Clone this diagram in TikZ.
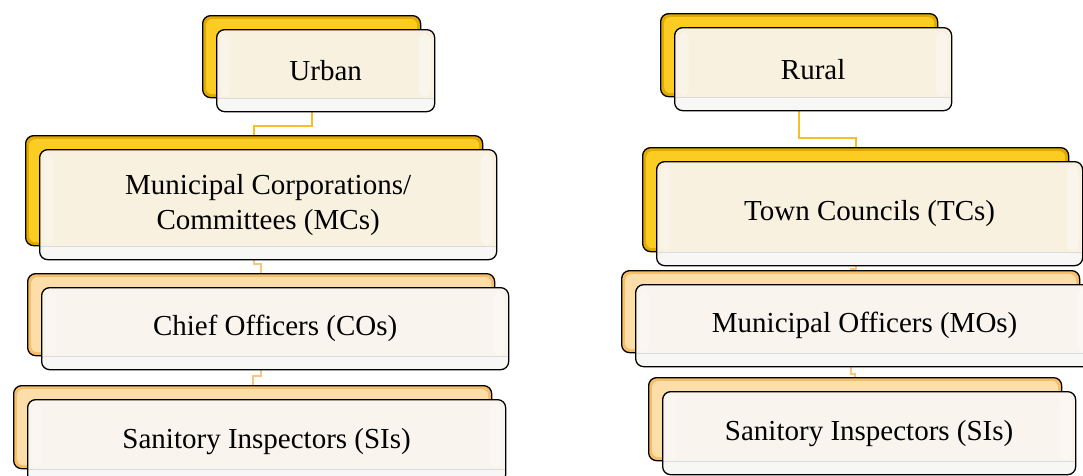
\documentclass[tikz,border=0pt]{standalone}
\usepackage{fontspec}
\setmainfont{Liberation Serif}
\pgfdeclarelayer{bg}
\pgfsetlayers{bg,main}
\definecolor{goldout}{HTML}{E2A900}
\definecolor{goldin}{HTML}{FBCD22}
\definecolor{peachout}{HTML}{F6BE68}
\definecolor{peachin}{HTML}{FDDDA8}
\definecolor{creamA}{HTML}{F8F1DF}
\definecolor{creamB}{HTML}{F9F5EE}
\definecolor{bandcol}{HTML}{F7F7F6}
\definecolor{linkA}{HTML}{F8BE2A}
\definecolor{linkB}{HTML}{F8C67C}
\tikzset{
  basebox/.style={draw=black, line width=1.3pt, rounded corners=8pt, inner sep=0pt, anchor=north west},
  backbox/.style 2 args={basebox, fill=#1,
    path picture={\fill[#2, rounded corners=6pt]
      ([shift={(3.5pt,-3.5pt)}]path picture bounding box.north west) rectangle
      ([shift={(-3.5pt,3.5pt)}]path picture bounding box.south east);}},
  backA/.style={backbox={goldout}{goldin}},
  backB/.style={backbox={peachout}{peachin}},
  frontbox/.style={basebox, fill=#1, align=center,
    font=\fontsize{29}{35}\selectfont,
    path picture={
      \fill[bandcol] (path picture bounding box.south west) rectangle
        ([yshift=13.5pt]path picture bounding box.south east);
      \draw[black!14, line width=1pt] ([yshift=13.5pt]path picture bounding box.south west) --
        ([yshift=13.5pt]path picture bounding box.south east);
      \fill[white, opacity=0.35] ([shift={(-16pt,-4pt)}]path picture bounding box.north east) rectangle
        ([shift={(-4pt,14pt)}]path picture bounding box.south east);
      \fill[white, opacity=0.25] ([shift={(4pt,-4pt)}]path picture bounding box.north west) rectangle
        ([shift={(14pt,14pt)}]path picture bounding box.south west);
    }},
  frontA/.style={frontbox=creamA},
  frontB/.style={frontbox=creamB},
  linkupper/.style={draw=linkA, line width=2pt},
  linklower/.style={draw=linkB, line width=2pt}
}
% #1 name, #2 x, #3 y (down), #4 width, #5 height, #6 back style, #7 front style, #8 text
\newcommand\tierbox[8]{%
  \node[#6, minimum width=#4pt, minimum height=#5pt] (#1b) at (#2pt,-#3pt) {};
  \node[#7, minimum width=#4pt, minimum height=#5pt] (#1) at ({#2pt+14pt},{-#3pt-14pt}) {#8};
}
\begin{document}
\begin{tikzpicture}
\useasboundingbox (0,0) rectangle (1083pt,-475pt);
\clip (0,0) rectangle (1083pt,-475pt);
% left column
\tierbox{urban}{202}{15}{218}{82}{backA}{frontA}{Urban}
\tierbox{mc}{25}{135}{457}{110}{backA}{frontA}{Municipal Corporations/\\Committees (MCs)}
\tierbox{co}{27}{273}{467}{82}{backB}{frontB}{Chief Officers (COs)}
\tierbox{sil}{13}{385}{478}{83}{backB}{frontB}{Sanitory Inspectors (SIs)}
% right column
\tierbox{rural}{660}{13}{277}{83}{backA}{frontA}{Rural}
\tierbox{tc}{642}{147}{426}{104}{backA}{frontA}{Town Councils (TCs)}
\tierbox{mo}{621}{270}{458}{82}{backB}{frontB}{Municipal Officers (MOs)}
\tierbox{sir}{648}{377}{413}{83}{backB}{frontB}{Sanitory Inspectors (SIs)}
\begin{pgfonlayer}{bg}
  \draw[linkupper] (urbanb.south) -- ++(0,-28pt) -| (mcb.north);
  \draw[linklower] (mcb.south) -- ++(0,-18pt) -| (cob.north);
  \draw[linklower] (cob.south) -- ++(0,-20pt) -| (silb.north);
  \draw[linkupper] (ruralb.south) -- ++(0,-41pt) -| (tcb.north);
  \draw[linklower] (tcb.south) -- ++(0,-17pt) -| (mob.north);
  \draw[linklower] (mob.south) -- ++(0,-21pt) -| (sirb.north);
\end{pgfonlayer}
\end{tikzpicture}
\end{document}
